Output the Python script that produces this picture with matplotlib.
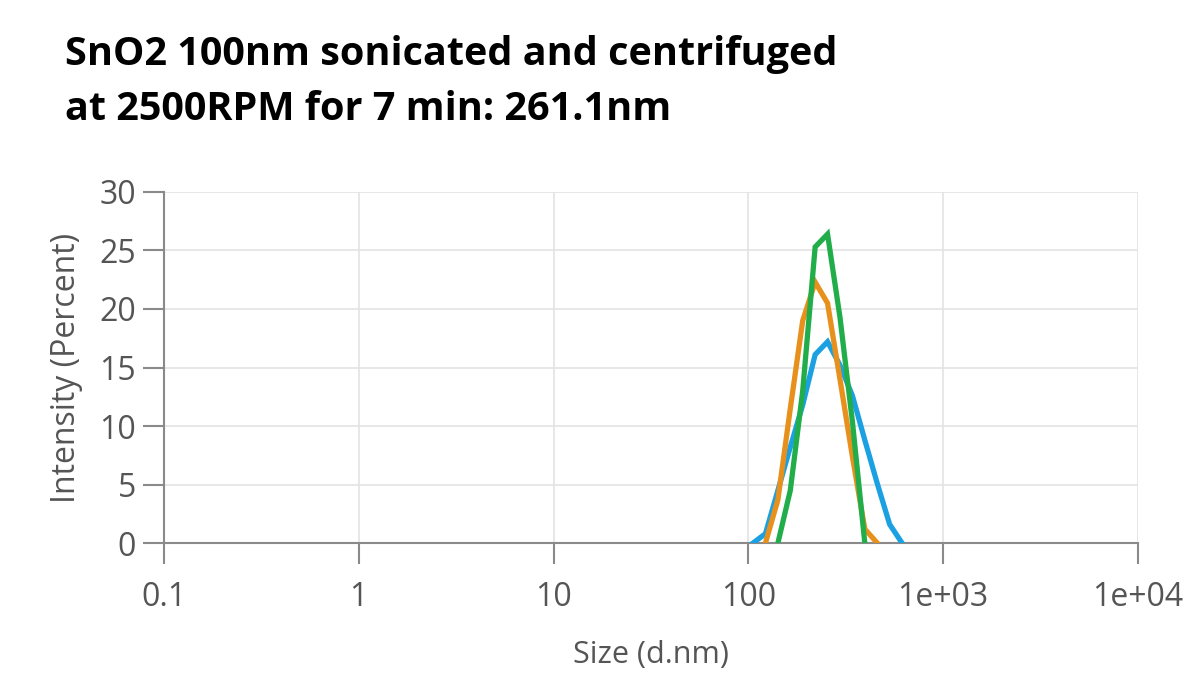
import matplotlib
matplotlib.use("Agg")
import matplotlib.pyplot as plt
from matplotlib.ticker import FixedLocator, FixedFormatter, NullLocator

plt.rcParams["font.family"] = ["Open Sans", "DejaVu Sans"]

# Size bins (d.nm)
sizes = [105.7, 122.4, 141.8, 164.2, 190.1, 220.2, 255.0, 295.3, 342.0,
         396.1, 458.7, 531.2, 615.1]
# Intensity (%) per run
run_blue = [0.0, 0.8, 4.5, 8.2, 11.8, 16.1, 17.2, 15.2, 12.6, 8.8, 5.1, 1.6, 0.0]
run_orange = [None, 0.0, 3.7, 11.5, 19.0, 22.3, 20.5, 14.0, 7.4, 1.2, 0.0, None, None]
run_green = [None, None, 0.0, 4.5, 13.0, 25.3, 26.4, 19.3, 10.4, 0.0, None, None, None]

xticks = [0.1, 1, 10, 100, 1000, 10000]
xtick_labels = ["0.1", "1", "10", "100", "1e+03", "1e+04"]
yticks = [0, 5, 10, 15, 20, 25, 30]

title_line1 = "SnO2 100nm sonicated and centrifuged"
title_line2 = "at 2500RPM for 7 min: 261.1nm"

fig = plt.figure(figsize=(11.84, 6.76), dpi=100)
ax = fig.add_axes([0.1385, 0.1967, 0.8226, 0.5193])

def clean(xs, ys):
    px, py = [], []
    for x, y in zip(xs, ys):
        if y is not None:
            px.append(x); py.append(y)
    return px, py

for data, col in [(run_blue, "#1BA1E2"), (run_orange, "#E8901C"), (run_green, "#21AE4A")]:
    px, py = clean(sizes, data)
    ax.plot(px, py, color=col, lw=3.8, solid_joinstyle="miter", zorder=3)

ax.set_xscale("log")
ax.set_xlim(0.1, 10000)
ax.set_ylim(0, 30)
ax.xaxis.set_major_locator(FixedLocator(xticks))
ax.xaxis.set_major_formatter(FixedFormatter(xtick_labels))
ax.xaxis.set_minor_locator(NullLocator())
ax.set_yticks(yticks)

gray = "#8a8a8a"
ax.grid(True, color="#e3e3e3", lw=1.2, zorder=0)
for s in ["top", "right"]:
    ax.spines[s].set_visible(False)
for s in ["left", "bottom"]:
    ax.spines[s].set_color(gray)
    ax.spines[s].set_linewidth(1.5)
ax.tick_params(axis="both", direction="out", length=15, width=1.5, color=gray,
               labelcolor="#555555", labelsize=23)
ax.tick_params(axis="x", pad=12)
ax.tick_params(axis="y", pad=5)

ax.set_xlabel("Size (d.nm)", fontsize=22, color="#555555", labelpad=19)
ax.set_ylabel("Intensity (Percent)", fontsize=23, color="#555555", labelpad=12)

fig.text(65 / 1184, 1 - 65 / 676, title_line1,
         fontsize=28.5, fontweight="bold", ha="left", va="baseline")
fig.text(65 / 1184, 1 - 120 / 676, title_line2,
         fontsize=28.5, fontweight="bold", ha="left", va="baseline")

fig.savefig("out.png", dpi=100, facecolor="white")
